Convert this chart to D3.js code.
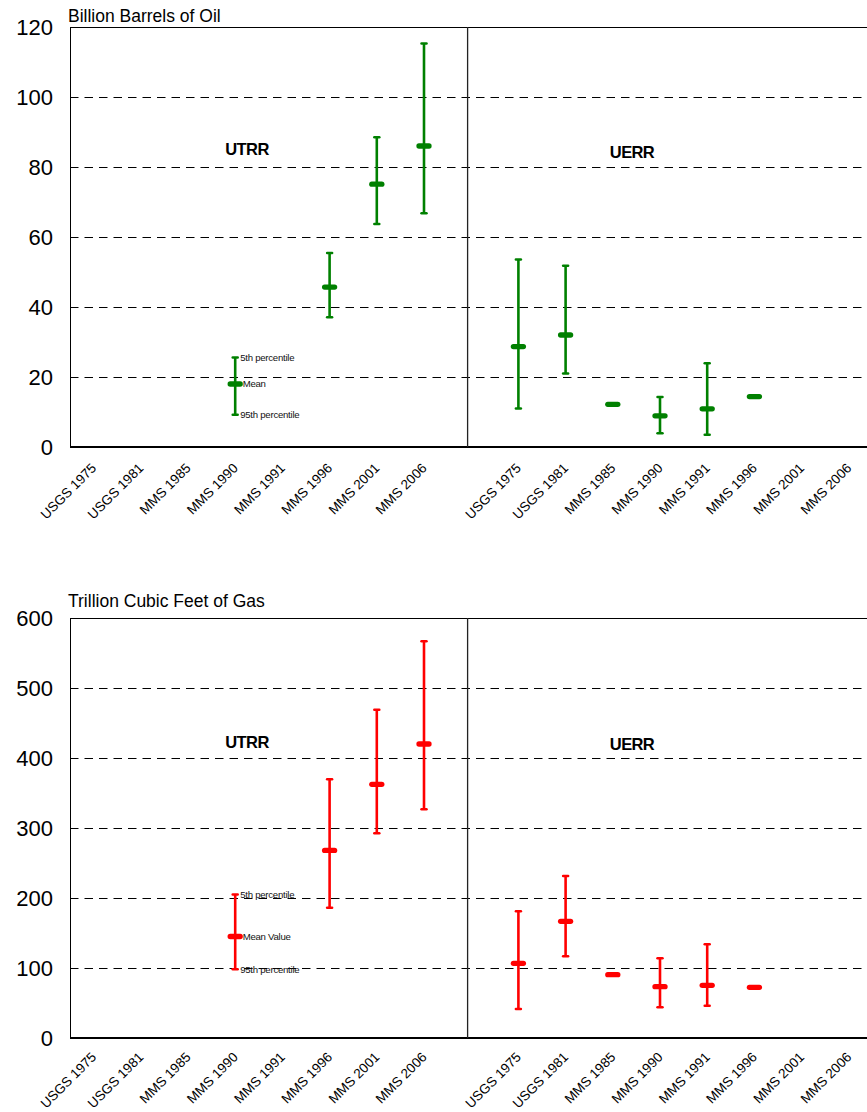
<!DOCTYPE html>
<html>
<head>
<meta charset="utf-8">
<script src="https://cdn.jsdelivr.net/npm/d3@7"></script>
<style>
    body { margin: 0; background: #fff; }
    text { font-family: "Liberation Sans", Arial, sans-serif; }
</style>
</head>
<body>
<div class="chart"></div>
<script>
// Assessments, shown once for UTRR (left half) and once for UERR (right half)
const categories = ["USGS 1975", "USGS 1981", "MMS 1985", "MMS 1990", "MMS 1991", "MMS 1996", "MMS 2001", "MMS 2006"];

// Oil, billion barrels ("high" is the 5th percentile, "low" the 95th percentile)
const oilUtrrMean = [null, null, null, 18, null, 45.7, 75.1, 86];
const oilUtrrHigh = [null, null, null, 25.6, null, 55.4, 88.5, 115.3];
const oilUtrrLow = [null, null, null, 9.2, null, 37.1, 63.7, 66.8];
const oilUerrMean = [28.7, 32, 12.2, 8.9, 10.9, 14.4, null, null];
const oilUerrHigh = [53.6, 51.8, null, 14.3, 23.9, null, null, null];
const oilUerrLow = [11.0, 21.0, null, 3.9, 3.5, null, null, null];
const oilTicks = [0, 20, 40, 60, 80, 100, 120];

// Gas, trillion cubic feet
const gasUtrrMean = [null, null, null, 145, null, 268, 362.4, 420];
const gasUtrrHigh = [null, null, null, 205, null, 369.6, 469, 566.7];
const gasUtrrLow = [null, null, null, 98.1, null, 186, 292.4, 326.7];
const gasUerrMean = [106.7, 166.7, 90.5, 73.3, 75.2, 72.4, null, null];
const gasUerrHigh = [181, 231.4, null, 113.8, 133.8, null, null, null];
const gasUerrLow = [41.4, 116.7, null, 43.8, 46.2, null, null, null];
const gasTicks = [0, 100, 200, 300, 400, 500, 600];

const width = 867, height = 1112;

const svg = d3.select(".chart")
    .append("svg")
    .attr("width", width)
    .attr("height", height);

// 8 UTRR slots, one empty slot for the divider, 8 UERR slots
const slots = categories.map(c => "UTRR|" + c).concat(["gap"], categories.map(c => "UERR|" + c));
const xScale = d3.scaleBand()
    .domain(slots)
    .range([70, 70 + 17 * 47.2]);
const bw = xScale.bandwidth();
const cx = key => xScale(key) + bw / 2;

function drawChart(opt) {
    const yScale = d3.scaleLinear()
        .domain([0, d3.max(opt.ticks)])
        .range([opt.bottom, opt.top]);
    const x0 = xScale.range()[0], x1 = xScale.range()[1];
    const g = svg.append("g");

    // dashed gridlines
    g.selectAll(".grid")
        .data(opt.ticks.slice(1, -1))
        .enter()
        .append("line")
        .attr("x1", x0)
        .attr("x2", x1)
        .attr("y1", d => Math.round(yScale(d)) + 0.5)
        .attr("y2", d => Math.round(yScale(d)) + 0.5)
        .attr("stroke", "#000")
        .attr("stroke-width", 1)
        .attr("stroke-dasharray", "8.5,6");

    // y axis labels
    const yAxis = g.append("g")
        .attr("transform", `translate(${x0}, 0)`)
        .call(d3.axisLeft(yScale).tickValues(opt.ticks).tickSize(0).tickPadding(17));
    yAxis.select(".domain").remove();
    yAxis.selectAll("text")
        .attr("font-size", 22)
        .attr("font-family", "'Liberation Sans', Arial, sans-serif")
        .attr("fill", "#000");

    // x axis labels, rotated
    const xAxis = g.append("g")
        .attr("transform", `translate(0, ${opt.bottom})`)
        .call(d3.axisBottom(xScale).tickSize(0).tickFormat(d => d === "gap" ? "" : d.split("|")[1]));
    xAxis.select(".domain").remove();
    xAxis.selectAll("text")
        .attr("font-size", 13.5)
        .attr("font-family", "'Liberation Sans', Arial, sans-serif")
        .attr("fill", "#000")
        .attr("text-anchor", "end")
        .attr("y", 0)
        .attr("dy", 0)
        .attr("transform", `translate(3.5, ${opt.labelOffset}) rotate(-45)`);

    // frame
    g.append("line").attr("x1", x0).attr("x2", x1).attr("y1", opt.top + 0.5).attr("y2", opt.top + 0.5)
        .attr("stroke", "#000").attr("stroke-width", 1);
    g.append("line").attr("x1", x0 + 0.5).attr("x2", x0 + 0.5).attr("y1", opt.top).attr("y2", opt.bottom)
        .attr("stroke", "#000").attr("stroke-width", 1);
    g.append("line").attr("x1", x0).attr("x2", x1).attr("y1", opt.bottom).attr("y2", opt.bottom)
        .attr("stroke", "#000").attr("stroke-width", 2);
    g.append("line")
        .attr("x1", xScale("gap") + 20).attr("x2", xScale("gap") + 20)
        .attr("y1", opt.top).attr("y2", opt.bottom)
        .attr("stroke", "#222").attr("stroke-width", 1.3);

    // title
    g.append("text")
        .attr("x", 68)
        .attr("y", opt.titleY)
        .attr("font-size", 17.5)
        .attr("fill", "#000")
        .text(opt.title);

    // panel labels
    g.append("text").attr("x", 247).attr("y", opt.top + opt.utrrDy)
        .attr("text-anchor", "middle").attr("font-size", 16.5).attr("font-weight", "bold")
        .attr("letter-spacing", -0.6).text("UTRR");
    g.append("text").attr("x", 632).attr("y", opt.top + opt.uerrDy)
        .attr("text-anchor", "middle").attr("font-size", 16.5).attr("font-weight", "bold")
        .attr("letter-spacing", -0.6).text("UERR");

    // error bars
    const rows = [];
    categories.forEach((c, i) => {
        rows.push({ key: "UTRR|" + c, mean: opt.utrr[0][i], high: opt.utrr[1][i], low: opt.utrr[2][i] });
        rows.push({ key: "UERR|" + c, mean: opt.uerr[0][i], high: opt.uerr[1][i], low: opt.uerr[2][i] });
    });
    const shown = rows.filter(d => d.mean !== null);
    const ranged = shown.filter(d => d.high !== null && d.low !== null);

    g.selectAll(".whisker").data(ranged).enter().append("line")
        .attr("x1", d => cx(d.key)).attr("x2", d => cx(d.key))
        .attr("y1", d => yScale(d.low)).attr("y2", d => yScale(d.high))
        .attr("stroke", opt.color).attr("stroke-width", 2.6);

    ["high", "low"].forEach(k => {
        g.selectAll(".cap-" + k).data(ranged).enter().append("line")
            .attr("x1", d => cx(d.key) - 2.5).attr("x2", d => cx(d.key) + 2.5)
            .attr("y1", d => yScale(d[k])).attr("y2", d => yScale(d[k]))
            .attr("stroke", opt.color).attr("stroke-width", 2.5)
            .attr("stroke-linecap", "round");
    });

    g.selectAll(".mean").data(shown).enter().append("line")
        .attr("x1", d => cx(d.key) - 5).attr("x2", d => cx(d.key) + 5)
        .attr("y1", d => yScale(d.mean)).attr("y2", d => yScale(d.mean))
        .attr("stroke", opt.color).attr("stroke-width", 5.3)
        .attr("stroke-linecap", "round");

    // legend-style notes on the MMS 1990 UTRR bar
    const ref = "UTRR|MMS 1990";
    const i = categories.indexOf("MMS 1990");
    const notes = [
        { text: "5th percentile", v: opt.utrr[1][i], dx: 5 },
        { text: opt.meanLabel, v: opt.utrr[0][i], dx: 7.5 },
        { text: "95th percentile", v: opt.utrr[2][i], dx: 5 }
    ];
    g.selectAll(".note").data(notes).enter().append("text")
        .attr("x", d => cx(ref) + d.dx)
        .attr("y", d => yScale(d.v))
        .attr("dy", "0.35em")
        .attr("font-size", 9.6)
        .attr("letter-spacing", -0.25)
        .attr("fill", "#111")
        .text(d => d.text);
}

drawChart({
    top: 27, bottom: 447, ticks: oilTicks, color: "#008000",
    title: "Billion Barrels of Oil", titleY: 21.5, labelOffset: 22,
    utrrDy: 128, uerrDy: 131, meanLabel: "Mean",
    utrr: [oilUtrrMean, oilUtrrHigh, oilUtrrLow],
    uerr: [oilUerrMean, oilUerrHigh, oilUerrLow]
});

drawChart({
    top: 618, bottom: 1038, ticks: gasTicks, color: "#ff0000",
    title: "Trillion Cubic Feet of Gas", titleY: 607, labelOffset: 20,
    utrrDy: 130, uerrDy: 132, meanLabel: "Mean Value",
    utrr: [gasUtrrMean, gasUtrrHigh, gasUtrrLow],
    uerr: [gasUerrMean, gasUerrHigh, gasUerrLow]
});
</script>
</body>
</html>
